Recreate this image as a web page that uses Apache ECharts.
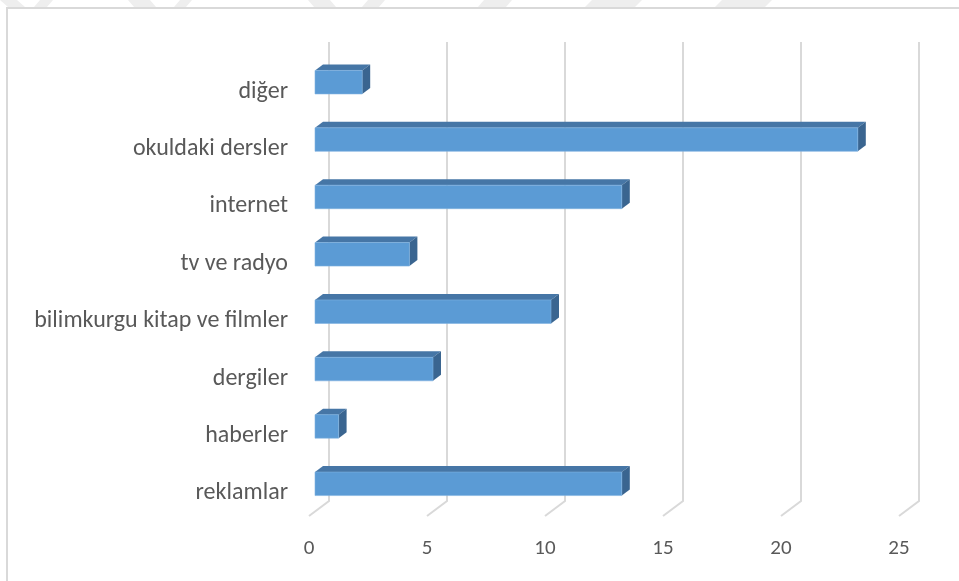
<!DOCTYPE html>
<html><head><meta charset="utf-8">
<script src="https://cdn.jsdelivr.net/npm/echarts@6/dist/echarts.min.js"></script>
<style>html,body{margin:0;padding:0;background:#fff}#c{width:959px;height:581px}</style>
</head><body><div id="c"></div>
<script>
const categories = ['reklamlar','haberler','dergiler','bilimkurgu kitap ve filmler','tv ve radyo','internet','okuldaki dersler','diğer'];
const values = [13, 1, 5, 10, 4, 13, 23, 2];
const xTicks = [0, 5, 10, 15, 20, 25];

const FONT = 'Carlito, Lato, "Open Sans", sans-serif';
const TEXT = '#595959';
const GRID_COLOR = '#D9D9D9';
const FRONT = '#5B9BD5', TOP = '#4676A6', SIDE = '#3A6590';
// 3D floor: back wall is (20,-15) px from the floor front edge
const FLOOR_DX = 20, FLOOR_DY = -15;
const BAR_FRONT = 0.3, BAR_BACK = 0.7; // depth fractions of bar faces

const chart = echarts.init(document.getElementById('c'), null, {renderer: 'canvas'});

function barItem(params, api) {
  const v = api.value(0), ci = api.value(1);
  const p0 = api.coord([0, ci]);
  const p1 = api.coord([v, ci]);
  const band = api.size([0, 1])[1];
  const h = band * 0.41;
  const fx = FLOOR_DX * BAR_FRONT, fy = FLOOR_DY * BAR_FRONT;
  const dx = FLOOR_DX * (BAR_BACK - BAR_FRONT), dy = FLOOR_DY * (BAR_BACK - BAR_FRONT);
  const x = p0[0] + fx, y = p0[1] + fy - h / 2 + 1;
  const w = p1[0] - p0[0];
  return {
    type: 'group',
    children: [
      {type: 'polygon', shape: {points: [[x, y], [x + dx, y + dy], [x + w + dx, y + dy], [x + w, y]]}, style: {fill: TOP}},
      {type: 'polygon', shape: {points: [[x + w, y], [x + w + dx, y + dy], [x + w + dx, y + h + dy], [x + w, y + h]]}, style: {fill: SIDE}},
      {type: 'rect', shape: {x: x, y: y, width: w, height: h}, style: {fill: FRONT, stroke: '#7FB2E0', lineWidth: 0.6}}
    ]
  };
}

function gridItem(params, api) {
  const cs = params.coordSys;
  const x = api.coord([api.value(0), 0])[0];
  const bottom = cs.y + cs.height;
  return {
    type: 'polyline',
    shape: {points: [[x + FLOOR_DX, cs.y + FLOOR_DY], [x + FLOOR_DX, bottom + FLOOR_DY], [x, bottom]]},
    style: {stroke: GRID_COLOR, lineWidth: 2, fill: null}
  };
}

const stripes = [[0, 17, 8], [40, 53, -6], [128, 150, 6], [180, 192, -6], [308, 330, 6], [368, 385, -6], [484, 512, -6], [592, 642, -7], [722, 772, -7]];

chart.setOption({
  animation: false,
  backgroundColor: '#fff',
  graphic: stripes.map(s => ({
    type: 'polygon', silent: true, z: -10,
    shape: {points: [[s[0], 0], [s[1], 0], [s[1] + s[2], 7], [s[0] + s[2], 7]]},
    style: {fill: '#EEEEEE'}
  })).concat([{
    type: 'rect', silent: true, z: -5,
    shape: {x: 7, y: 8, width: 1000, height: 700},
    style: {fill: null, stroke: '#D9D9D9', lineWidth: 2}
  }]),
  grid: {left: 309, right: 60, top: 57, bottom: 65, containLabel: false},
  xAxis: {
    type: 'value', min: 0, max: 25, interval: 5,
    axisLine: {show: false}, axisTick: {show: false}, splitLine: {show: false},
    axisLabel: {color: TEXT, fontFamily: FONT, fontSize: 21, margin: 22}
  },
  yAxis: {
    type: 'category', data: categories,
    axisLine: {show: false}, axisTick: {show: false}, splitLine: {show: false},
    axisLabel: {color: TEXT, fontFamily: FONT, fontSize: 24, margin: 21, lineHeight: 12, verticalAlign: 'top'}
  },
  series: [
    {type: 'custom', renderItem: gridItem, data: xTicks.map(t => [t, 0]), encode: {x: 0, y: 1}, z: 1, silent: true},
    {type: 'custom', renderItem: barItem, data: values.map((v, i) => [v, i]), encode: {x: 0, y: 1}, z: 2}
  ]
});
</script></body></html>
